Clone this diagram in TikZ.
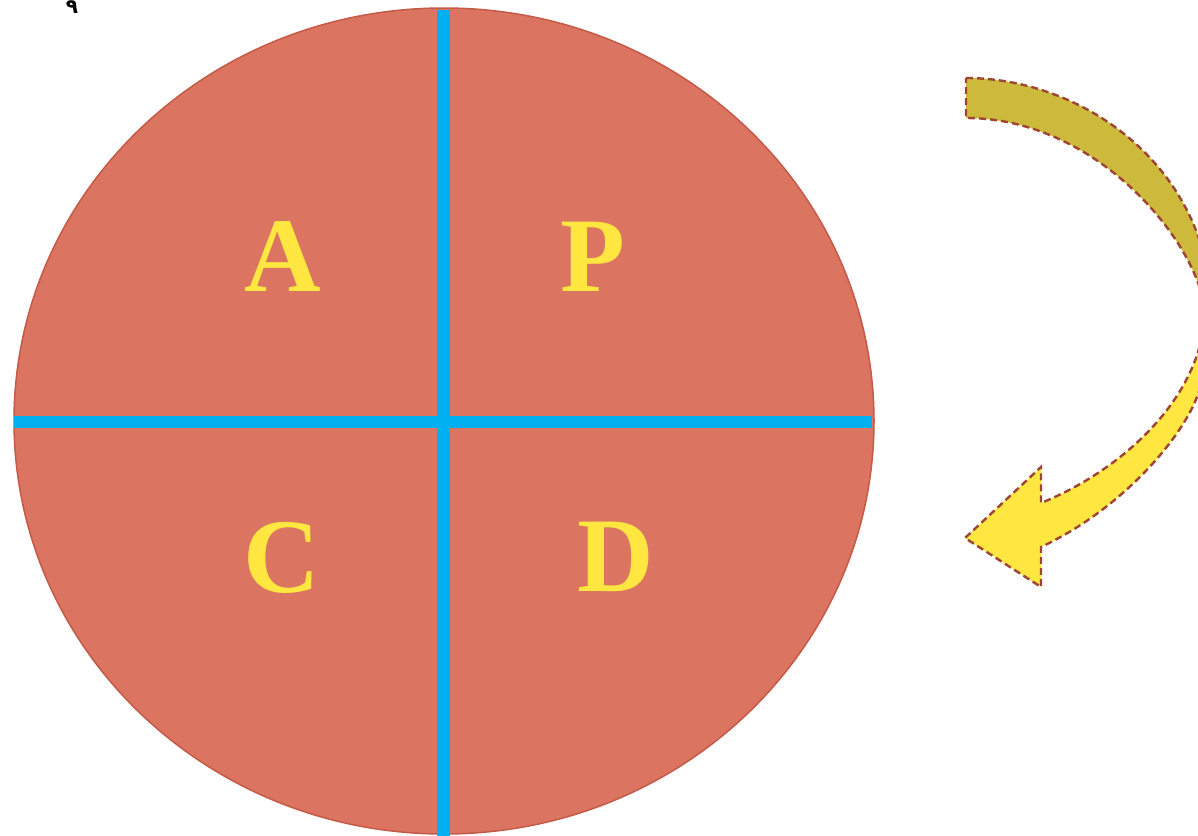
\documentclass[tikz,border=0pt]{standalone}
\usepackage{fontspec}
\setmainfont{Liberation Serif}
\newfontfamily\letterfont{Liberation Serif}
\newfontfamily\arabicfont[Script=Arabic]{DejaVu Sans}
\definecolor{discfill}{HTML}{DB7461}
\definecolor{discedge}{HTML}{C45A48}
\definecolor{crossblue}{HTML}{00B0F0}
\definecolor{lettery}{HTML}{FFE640}
\definecolor{arrowolive}{HTML}{CDB93B}
\definecolor{arrowyellow}{HTML}{FFE641}
\definecolor{arrowedge}{HTML}{9E4535}
\tikzset{
  quad/.style={text=lettery, font=\letterfont\bfseries\fontsize{106}{106}\selectfont, inner sep=0pt, anchor=base},
  crossline/.style={draw=crossblue, line width=12.5pt},
  arrowoutline/.style={draw=arrowedge, line width=2.4pt, dash pattern=on 7pt off 4pt}
}
\begin{document}
\begin{tikzpicture}[x=1pt,y=-1pt]
\useasboundingbox (0,0) rectangle (1198,835);
\begin{scope}
\clip (0,0) rectangle (1198,835);
% disc
\draw[fill=discfill, draw=discedge, line width=1.5pt] (444,421) ellipse [x radius=430, y radius=413];
% cross
\draw[crossline] (443.5,10) -- (443.5,840);
\draw[crossline] (14,422) -- (872,422);
% curved arrow
\def\arrowpath{(966,78) .. controls (1060,78) and (1160,135) .. (1197,233)
  .. controls (1215,280) and (1215,350) .. (1197,397)
  .. controls (1180,441) and (1120,510) .. (1041,547)
  -- (1041,587) -- (965,538) -- (1041,467) -- (1041,503)
  .. controls (1110,475) and (1175,420) .. (1197,355)
  .. controls (1206,328) and (1206,303) .. (1197,280)
  .. controls (1170,211) and (1080,118) .. (966,118) -- cycle}
\fill[arrowyellow] \arrowpath;
\begin{scope}
\clip (900,0) rectangle (1300,318);
\fill[arrowolive] \arrowpath;
\end{scope}
\draw[arrowoutline] \arrowpath;
\end{scope}
% letters
\node[quad] (A) at (283,291) {A};
\node[quad] (P) at (593,291) {P};
\node[quad] (C) at (282,592) {C};
\node[quad] (D) at (616,591) {D};
% corner mark
\node[font=\arabicfont\bfseries\fontsize{20}{20}\selectfont, inner sep=0pt] (mark) at (72,7) {٩};
\end{tikzpicture}
\end{document}
